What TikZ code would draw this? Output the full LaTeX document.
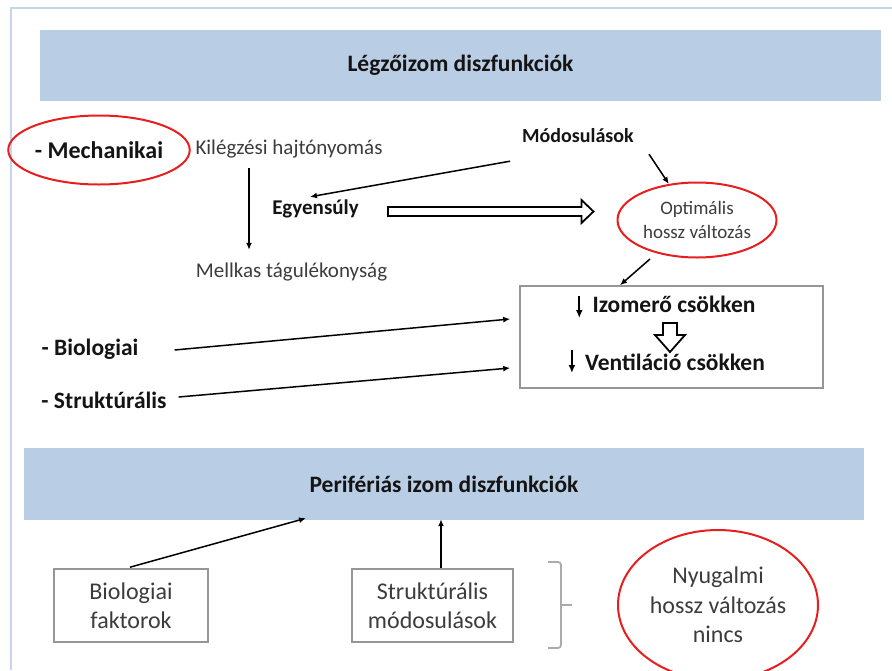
\documentclass[tikz,border=0pt]{standalone}
\usepackage{fontspec}
\setmainfont{Carlito}
\usetikzlibrary{arrows.meta,shapes.geometric,calc}
\definecolor{bannerblue}{RGB}{185,205,228}
\definecolor{framebl}{RGB}{196,214,236}
\definecolor{ovalred}{RGB}{232,30,30}
\definecolor{boxgray}{RGB}{150,150,150}
\definecolor{bracegray}{RGB}{170,170,170}
\definecolor{txtdark}{RGB}{20,20,20}
\definecolor{txtgray}{RGB}{60,60,60}
\begin{document}
\begin{tikzpicture}[x=1pt,y=-1pt,
  banner/.style={fill=bannerblue,draw=none,inner sep=0pt,text=txtdark,
    font=\fontsize{23.5}{28}\selectfont\bfseries},
  redoval/.style={ellipse,draw=ovalred,line width=2pt,inner sep=0pt,align=center},
  lbl/.style={inner sep=0pt,text height=15pt,text depth=5pt},
  lblbig/.style={inner sep=0pt,text height=17pt,text depth=5.5pt},
  plain/.style={font=\fontsize{21}{25}\selectfont,text=txtgray},
  boldtxt/.style={font=\fontsize{21}{25}\selectfont\bfseries,text=txtdark},
  bigbold/.style={font=\fontsize{23.5}{28}\selectfont\bfseries,text=txtdark},
  graybox/.style={draw=boxgray,line width=1.6pt,inner sep=0pt,align=center},
  conn/.style={draw=black,line width=1.5pt,-{Latex[length=7pt,width=6pt]}},
  downarr/.style={draw=black,line width=1.8pt,-{Latex[length=8pt,width=7pt]}},
  hollow/.style={draw=black,line width=1.8pt,fill=white,line join=miter},
  bracket/.style={draw=bracegray,line width=1.8pt,rounded corners=3pt}
]
\useasboundingbox (0,0) rectangle (892,670);
% frame
\draw[framebl,line width=2pt] (11,670) -- (11,8) -- (892,8);

% top banner
\node[banner,minimum width=841pt,minimum height=71pt] (t1) at (460.5,65.5) {Légzőizom diszfunkciók};

% mechanical part
\node[redoval,minimum width=174pt,minimum height=69pt,font=\fontsize{24}{29}\selectfont\bfseries,text=txtdark] (mech) at (99,150) {- Mechanikai};
\node[lbl,plain] (kileg) at (289,149) {Kilégzési hajtónyomás};
\node[lbl,plain] (mellk) at (291.5,272) {Mellkas tágulékonyság};
\node[lbl,boldtxt] (egyens) at (315.5,209) {Egyensúly};
\node[lbl,font=\fontsize{20}{24}\selectfont\bfseries,text=txtdark] (modos) at (578,137) {Módosulások};
\node[redoval,minimum width=159pt,minimum height=75pt,font=\fontsize{19}{24}\selectfont,text=txtgray] (optim) at (697,220) {Optimális\\hossz változás};

% main box
\node[graybox,minimum width=303pt,minimum height=102pt] (mainbox) at (671.5,337) {};
\node[lblbig,bigbold] (izom) at (674,307) {Izomerő csökken};
\node[lblbig,bigbold] (vent) at (675,365) {Ventiláció csökken};

\draw[conn] ($(kileg.south)+(-40,9)$) -- ($(mellk.north)+(-42.5,-12)$);
\draw[conn] ($(modos.south)+(-68,14)$) -- ($(egyens.north)+(-5.5,-2)$);
\draw[conn] ($(modos.south)+(71,7)$) -- (optim.128);
\draw[conn] ($(optim.south)+(-47,0.5)$) -- ($(mainbox.north)+(-51.5,0)$);

% hollow arrow Egyensúly -> Optimális
\coordinate (hs) at ($(egyens.east)+(29,2.5)$);
\coordinate (he) at ($(optim.west)+(-23,-8.5)$);
\draw[hollow] ($(hs)+(0,-4.5)$) -- ($(he)+(-12,-4.5)$) -- ($(he)+(-12,-11.5)$) -- (he)
  -- ($(he)+(-12,11.5)$) -- ($(he)+(-12,4.5)$) -- ($(hs)+(0,4.5)$) -- cycle;

\draw[downarr] ($(izom.west)+(-13,-11)$) -- ($(izom.west)+(-13,11)$);
\draw[downarr] ($(vent.west)+(-13,-15)$) -- ($(vent.west)+(-13,8)$);
\coordinate (dt) at ($(mainbox.center)+(-1.5,-14)$);
\draw[hollow] ($(dt)+(-7,0)$) -- ($(dt)+(7,0)$) -- ($(dt)+(7,12)$) -- ($(dt)+(15,12)$) -- ($(dt)+(0,29)$)
  -- ($(dt)+(-15,12)$) -- ($(dt)+(-7,12)$) -- cycle;

\node[lblbig,bigbold] (bio) at (90,350) {- Biologiai};
\node[lblbig,bigbold] (struct) at (104,403) {- Struktúrális};
\draw[conn] ($(bio.east)+(36,0)$) -- ($(mainbox.west)+(-9,-18)$);
\draw[conn] ($(struct.east)+(12,-6)$) -- ($(mainbox.west)+(-9,31)$);

% bottom banner
\node[banner,minimum width=840pt,minimum height=72pt] (t2) at (444,484) {Perifériás izom diszfunkciók};

\node[graybox,minimum width=154pt,minimum height=73pt,font=\fontsize{24}{29}\selectfont,text=txtgray] (bf) at (131,605.5) {Biologiai\\faktorok};
\node[graybox,minimum width=161pt,minimum height=73pt,font=\fontsize{24}{29}\selectfont,text=txtgray] (sm) at (432.5,605.5) {Struktúrális\\módosulások};
\draw[conn] ($(bf.north)+(-1,-1)$) -- ($(t2.south)+(-138,-2)$);
\draw[conn] ($(sm.north)+(8.5,0)$) -- ($(t2.south)+(-3,-1)$);

% bracket
\draw[bracket] (548,562) -- (561,562) -- (561,605);
\draw[bracket] (548,648) -- (561,648) -- (561,605);
\draw[bracket] (561,605) -- (572,605);

\node[redoval,minimum width=200pt,minimum height=150pt,font=\fontsize{24}{29.5}\selectfont,text=txtgray] (nyug) at (718,605) {Nyugalmi\\hossz változás\\nincs};
\end{tikzpicture}
\end{document}
